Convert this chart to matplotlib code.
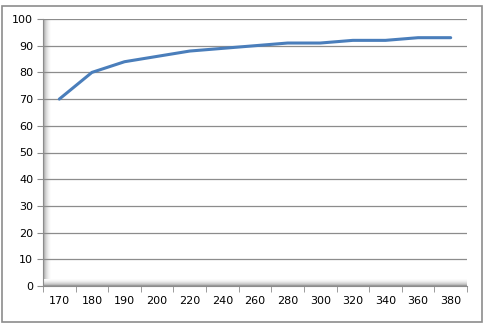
import matplotlib
matplotlib.use('Agg')
import matplotlib.pyplot as plt
import numpy as np
from matplotlib.patches import Rectangle

categories = ['170', '180', '190', '200', '220', '240', '260', '280', '300', '320', '340', '360', '380']
values = [70, 80, 84, 86, 88, 89, 90, 91, 91, 92, 92, 93, 93]

W, H = 487, 327
fig = plt.figure(figsize=(W / 100, H / 100), dpi=100)

# outer chart border
fig.patches.append(Rectangle((2 / W, 5 / H), 480 / W, 316 / H, transform=fig.transFigure,
                             fill=False, edgecolor='#8c8c8c', linewidth=1.2))

left, right, top, bottom = 43, 467, 19, 286
ax = fig.add_axes([left / W, (H - bottom) / H, (right - left) / W, (bottom - top) / H])

# 3D wall / floor shading
grad = np.linspace(0, 1, 64) ** 0.7
wall = fig.add_axes([left / W, (H - bottom) / H, 7 / W, (bottom - top) / H], zorder=0)
wall.imshow(grad[None, :], aspect='auto', cmap='Greys_r', vmin=-0.8, vmax=1.0)
wall.axis('off')
floor = fig.add_axes([left / W, (H - bottom) / H, (right - left) / W, 7 / H], zorder=0)
floor.imshow(grad[::-1][:, None], aspect='auto', cmap='Greys_r', vmin=-0.8, vmax=1.0)
floor.axis('off')
ax.set_zorder(1)
ax.patch.set_alpha(0)

x = np.arange(len(categories))
ax.plot(x, values, color='#4a7ebb', linewidth=2.2, solid_capstyle='round', zorder=3)

ax.set_xlim(-0.5, len(categories) - 0.5)
ax.set_ylim(0, 100)
ax.set_yticks(np.arange(0, 101, 10))
ax.set_xticks(x)
ax.set_xticklabels(categories)
ax.set_xticks(np.arange(-0.5, len(categories)), minor=True)
ax.tick_params(axis='x', which='major', length=0, pad=7, labelsize=8)
ax.tick_params(axis='x', which='minor', length=4, color='#8c8c8c', direction='out')
ax.tick_params(axis='y', length=4, color='#8c8c8c', labelsize=8, pad=3)
ax.yaxis.grid(True, color='#8c8c8c', linewidth=0.9)
ax.set_axisbelow(True)
for s in ['top', 'right']:
    ax.spines[s].set_visible(False)
ax.spines['left'].set_color('#8c8c8c')
ax.spines['bottom'].set_color('#8c8c8c')

fig.savefig('out.png', dpi=100)
